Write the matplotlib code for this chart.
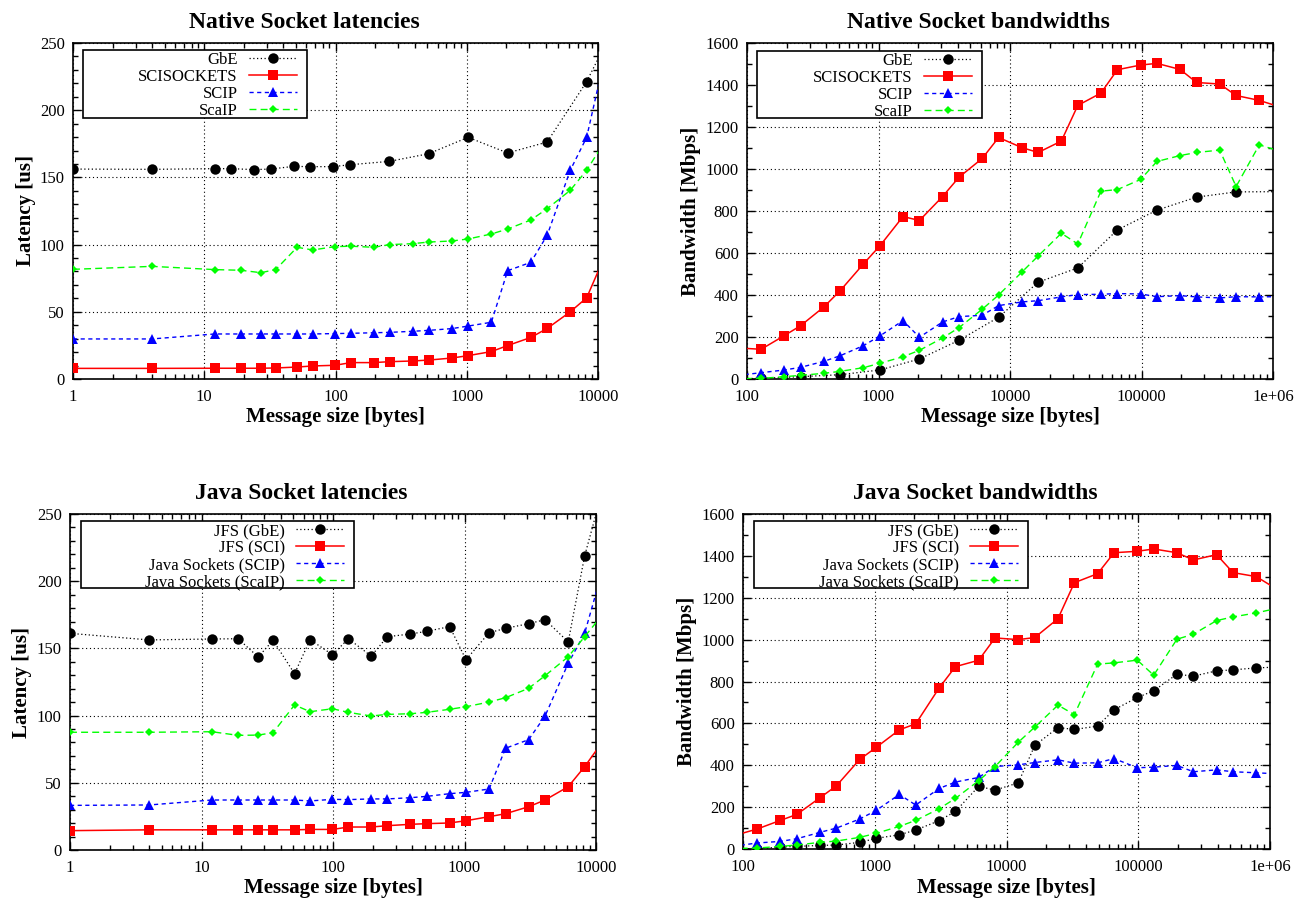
import matplotlib
matplotlib.use("Agg")
import matplotlib.pyplot as plt
from matplotlib.patches import Rectangle
from matplotlib.ticker import LogLocator, MultipleLocator, FuncFormatter, NullFormatter

plt.rcParams['font.family'] = ['Liberation Serif', 'DejaVu Serif']

# ---- Native Socket latencies (us) ----
lat_gbe_x = [1, 4, 12, 16, 24, 32, 48, 64, 96, 128, 256, 512, 1024, 2048, 4096, 8192, 16384]
lat_gbe = [156.2, 156, 156.5, 156.5, 155.8, 156.2, 158.2, 158, 158, 159.4, 161.9, 167.6,
           179.8, 168.2, 176.3, 221.2, 280]
lat_x = [1, 4, 12, 19, 27, 35, 51, 67, 99, 131, 195, 259, 387, 515, 771, 1027, 1539, 2051,
         3075, 4099, 6147, 8195, 12291]
lat_sci = [7.9, 7.9, 8, 8, 8, 8.2, 8.9, 9.7, 10.2, 12.2, 12.2, 12.9, 13.4, 14.1, 15.6, 17.4,
           20.4, 24.9, 30.9, 37.6, 50, 60.4, 100]
lat_scip = [29.8, 29.8, 33.5, 33.5, 33.5, 33.5, 33.5, 33.5, 33.8, 34, 34.4, 34.7, 35.5, 36.2,
            37.5, 39.4, 42.2, 80.6, 86.8, 106.9, 155.3, 179.8, 256]
lat_scaip = [81.6, 83.8, 81.4, 80.9, 79.1, 81.4, 98, 96, 98.5, 98.8, 98, 100, 100.7, 101.9,
             102.7, 104.2, 107.9, 111.6, 118.3, 126.7, 140.4, 155.3, 182.6]

# ---- Native Socket bandwidths (Mbps) ----
bw_x = [96, 128, 192, 256, 384, 512, 768, 1024, 1536, 2048, 3072, 4096, 6144, 8192, 12288,
        16384, 24576, 32768, 49152, 65536, 98304, 131072, 196608, 262144, 393216, 524288,
        786432, 1048576]
bw_gbe_x = [64, 128, 256, 512, 1024, 2048, 4096, 8192, 16384, 32768, 65536, 131072, 262144,
            524288, 1048576]
bw_gbe = [1, 3, 11, 20.6, 43, 95.4, 184.4, 294, 461, 529, 710, 804, 866, 891, 892]
bw_sci = [146, 141.5, 206.5, 254, 343, 421, 548, 634, 773.7, 754.7, 869, 961, 1050, 1150, 1102,
          1078.7, 1133, 1302.7, 1361.5, 1472.7, 1495, 1503, 1474, 1412, 1404.6, 1350, 1326.6, 1302]
bw_scip = [21, 30, 42.9, 55.6, 84, 111, 158.9, 205, 278, 198.6, 271.7, 297, 303.5, 349.5, 367,
           373, 391, 402, 403.5, 406.7, 405, 392, 397, 391, 386, 392, 391, 392]
bw_scaip = [2, 3, 11, 17.5, 27, 36.5, 54, 74.7, 106, 136.6, 195.4, 244.6, 332, 400, 508.5, 586,
            694, 643, 894.5, 902, 950, 1036, 1064, 1078.7, 1090, 916.6, 1115, 1091]

# ---- Java Socket latencies (us) ----
jlat_gbe = [161.2, 156.3, 157, 157.2, 143.6, 156, 131.2, 156.5, 145.3, 157.2, 144.3, 158.7,
            160.7, 162.7, 166.2, 141.6, 161.7, 164.9, 168.4, 171.4, 154.8, 218.8, 282]
jlat_sci = [14.4, 15, 15, 15, 15, 15, 15, 15.3, 15.3, 17.1, 17.1, 18.1, 19.1, 19.6, 20.1, 21.8,
            24.8, 27, 32.2, 37.2, 47.1, 62, 86]
jlat_scip = [33.2, 33.5, 37.2, 37.2, 37.2, 37.2, 37.2, 36.5, 37.7, 37.5, 38, 38, 38.9, 39.9,
             41.9, 42.9, 45.4, 75.7, 82.1, 99.7, 138.9, 161.2, 222]
jlat_scaip = [87.6, 87.6, 88, 85.3, 85.5, 87.3, 107.9, 102.9, 105.1, 102.4, 99.7, 100.9, 101.4,
              102.4, 104.7, 106.6, 110.1, 113.3, 120.3, 129.7, 143.8, 158.7, 180]

# ---- Java Socket bandwidths (Mbps) ----
jbw_gbe = [1, 1.4, 9.5, 12.4, 17, 19, 31.7, 50.7, 68, 90.5, 135, 179.6, 299, 281.5, 316, 494.5,
           580, 571, 587, 665, 723.6, 755.5, 835, 825.5, 851, 855.6, 865, 868]
jbw_sci = [73, 95.4, 136.6, 165, 244.8, 302, 427.6, 485, 569, 598, 768, 871, 901.5, 1008, 1000,
           1010, 1100, 1272, 1315, 1415, 1422, 1433, 1415, 1380.5, 1406, 1320, 1301, 1253]
jbw_scip = [18, 28.6, 36.3, 49, 79.5, 100, 143, 184, 260.5, 210, 289, 319.7, 341.7, 394, 402,
            413, 426, 410, 411.5, 432, 388, 391, 399, 369, 378, 369, 364, 360]
jbw_scaip = [3, 4.6, 12.4, 19, 31.7, 38, 55.5, 74.6, 108, 136.6, 192, 241.6, 326, 394, 510, 582,
             687, 642, 883, 889, 902, 830, 1002, 1026, 1091, 1108.5, 1127.6, 1145]

native_labels = ['GbE', 'SCISOCKETS', 'SCIP', 'ScaIP']
java_labels = ['JFS (GbE)', 'JFS (SCI)', 'Java Sockets (SCIP)', 'Java Sockets (ScaIP)']

# estilo tipo gnuplot para cada serie
STYLES = [
    dict(color='black', ls=(0, (1, 2)), lw=0.9, marker='o', ms=7.5),
    dict(color='red', ls='-', lw=1.1, marker='s', ms=7),
    dict(color='blue', ls=(0, (3, 2.5)), lw=1.0, marker='^', ms=6.5),
    dict(color='#00ff00', ls=(0, (5, 3)), lw=1.0, marker='D', ms=4.5),
]

W, H = 1307, 907
fig = plt.figure(figsize=(W / 100, H / 100), dpi=100)
fig.patch.set_facecolor('white')


def px_axes(l, t, r, b):
    return fig.add_axes([l / W, 1 - b / H, (r - l) / W, (b - t) / H])


def xfmt(v, pos):
    if v >= 1e6:
        return '1e+06'
    return '%d' % round(v)


def panel(ax, series, labels, xlim, ylim, ymaj, ymin, title, ylabel, box):
    for (x, y), lab, st in zip(series, labels, STYLES):
        show = [xlim[0] <= v <= xlim[1] for v in x]
        ax.plot(x, y, color=st['color'], ls=st['ls'], lw=st['lw'], marker=st['marker'],
                ms=st['ms'], mec=st['color'], mfc=st['color'], mew=0, markevery=show,
                label=lab, zorder=3)
    ax.set_xscale('log')
    ax.set_xlim(*xlim)
    ax.set_ylim(*ylim)
    ax.xaxis.set_major_locator(LogLocator(base=10, numticks=20))
    ax.xaxis.set_minor_locator(LogLocator(base=10, subs=range(2, 10), numticks=20))
    ax.xaxis.set_major_formatter(FuncFormatter(xfmt))
    ax.xaxis.set_minor_formatter(NullFormatter())
    ax.yaxis.set_major_locator(MultipleLocator(ymaj))
    ax.yaxis.set_minor_locator(MultipleLocator(ymin))
    ax.tick_params(which='both', direction='in', top=True, right=True, labelsize=12, width=1)
    ax.tick_params(which='major', length=6)
    ax.tick_params(which='minor', length=3.5)
    ax.tick_params(axis='x', pad=7)
    ax.tick_params(axis='y', pad=6)
    for sp in ax.spines.values():
        sp.set_linewidth(1.2)
    ax.grid(True, which='major', color='black', ls=(0, (1, 2.5)), lw=0.8)
    ax.set_axisbelow(True)
    t = ax.set_title(title, fontsize=17, fontweight='bold', pad=11)
    t.set_x(0.44)
    ax.set_xlabel('Message size [bytes]', fontsize=15, fontweight='bold', labelpad=2)
    ax.set_ylabel(ylabel, fontsize=15, fontweight='bold', labelpad=3)

    # caja de la leyenda (como gnuplot, mas ancha que el contenido)
    bl, bt, br, bb = box
    rect = Rectangle((bl / W, 1 - bb / H), (br - bl) / W, (bb - bt) / H,
                     transform=fig.transFigure, facecolor='white', edgecolor='black',
                     lw=1.2, zorder=4, clip_on=False)
    fig.add_artist(rect)
    leg = ax.legend(loc='upper right', bbox_to_anchor=((br - 10) / W, 1 - (bt + 2) / H),
                    bbox_transform=fig.transFigure, markerfirst=False, frameon=False,
                    handlelength=2.9, handletextpad=0.65, labelspacing=0.06,
                    borderpad=0, borderaxespad=0, fontsize=12)
    leg.set_zorder(5)
    fig.add_artist(leg)


ax1 = px_axes(73, 43, 598, 379)
panel(ax1, [(lat_gbe_x, lat_gbe), (lat_x, lat_sci), (lat_x, lat_scip), (lat_x, lat_scaip)],
      native_labels, (1, 10000), (0, 250), 50, 10, 'Native Socket latencies', 'Latency [us]',
      (83, 50, 307, 118))

ax2 = px_axes(747, 43, 1273, 379)
panel(ax2, [(bw_gbe_x, bw_gbe), (bw_x, bw_sci), (bw_x, bw_scip), (bw_x, bw_scaip)],
      native_labels, (100, 1e6), (0, 1600), 200, 100, 'Native Socket bandwidths',
      'Bandwidth [Mbps]', (757, 51, 982, 118))

ax3 = px_axes(70, 514, 596, 850)
panel(ax3, [(lat_x, jlat_gbe), (lat_x, jlat_sci), (lat_x, jlat_scip), (lat_x, jlat_scaip)],
      java_labels, (1, 10000), (0, 250), 50, 10, 'Java Socket latencies', 'Latency [us]',
      (81, 521, 354, 588))

ax4 = px_axes(743, 514, 1270, 849)
panel(ax4, [(bw_x, jbw_gbe), (bw_x, jbw_sci), (bw_x, jbw_scip), (bw_x, jbw_scaip)],
      java_labels, (100, 1e6), (0, 1600), 200, 100, 'Java Socket bandwidths',
      'Bandwidth [Mbps]', (754, 521, 1028, 588))

fig.savefig('out.png', dpi=100, facecolor='white')
